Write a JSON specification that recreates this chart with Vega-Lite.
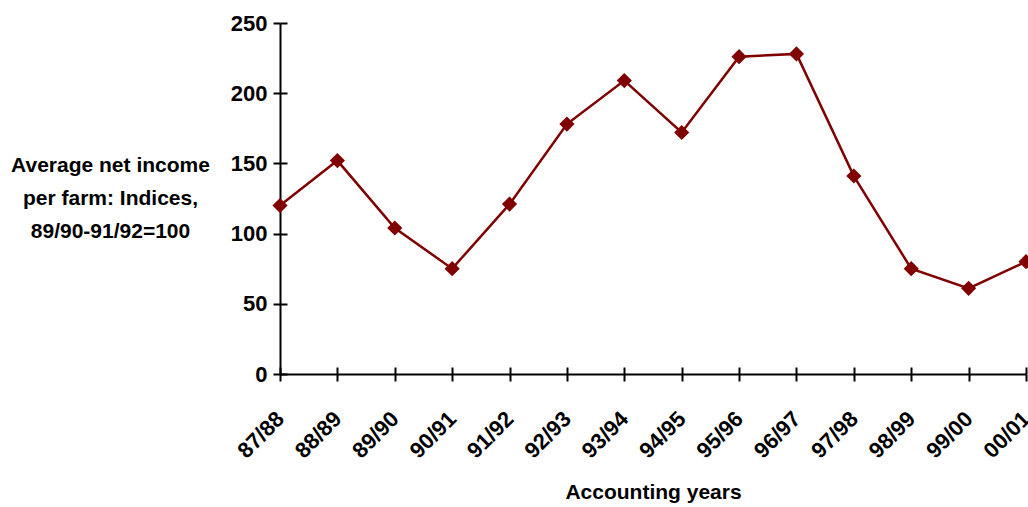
{
  "$schema": "https://vega.github.io/schema/vega-lite/v6.json",
  "width": 746,
  "height": 351,
  "autosize": {"type": "none"},
  "padding": {"left": 280, "top": 23, "right": 2, "bottom": 133},
  "background": "white",
  "config": {
    "view": {"stroke": null},
    "font": "Liberation Sans",
    "axis": {
      "grid": false,
      "domainColor": "black",
      "domainWidth": 2,
      "tickColor": "black",
      "tickWidth": 2,
      "tickSize": 7,
      "labelFont": "Liberation Sans",
      "labelFontWeight": "bold",
      "labelFontSize": 22,
      "labelColor": "black",
      "titleFont": "Liberation Sans",
      "titleFontWeight": "bold",
      "titleFontSize": 21,
      "titleColor": "black"
    }
  },
  "data": {
    "values": [
      {"year": "87/88", "index": 120},
      {"year": "88/89", "index": 152},
      {"year": "89/90", "index": 104},
      {"year": "90/91", "index": 75},
      {"year": "91/92", "index": 121},
      {"year": "92/93", "index": 178},
      {"year": "93/94", "index": 209},
      {"year": "94/95", "index": 172},
      {"year": "95/96", "index": 226},
      {"year": "96/97", "index": 228},
      {"year": "97/98", "index": 141},
      {"year": "98/99", "index": 75},
      {"year": "99/00", "index": 61},
      {"year": "00/01", "index": 80}
    ]
  },
  "resolve": {"axis": {"x": "independent", "y": "independent"}},
  "layer": [
    {
      "mark": {"type": "line", "color": "#800000", "strokeWidth": 2.5},
      "encoding": {
        "x": {
          "field": "year",
          "type": "ordinal",
          "sort": null,
          "scale": {"type": "point", "padding": 0},
          "axis": {
            "orient": "bottom",
            "title": "Accounting years",
            "titleY": 118,
            "titleBaseline": "middle",
            "labelAngle": -45,
            "labelAlign": "right",
            "labelBaseline": "middle",
            "labelPadding": 34,
            "labelOverlap": false
          }
        },
        "y": {
          "field": "index",
          "type": "quantitative",
          "scale": {"domain": [0, 250], "nice": false},
          "axis": {
            "orient": "left",
            "values": [0, 50, 100, 150, 200, 250],
            "labelPadding": 6,
            "title": ["Average net income", "per farm: Indices,", "89/90-91/92=100"],
            "titleAngle": 0,
            "titleAlign": "center",
            "titleBaseline": "middle",
            "titleLineHeight": 33,
            "titleX": -170,
            "titleY": 142
          }
        }
      }
    },
    {
      "mark": {"type": "point", "shape": "diamond", "filled": true, "opacity": 1, "color": "#800000", "size": 230},
      "encoding": {
        "x": {
          "field": "year",
          "type": "ordinal",
          "sort": null,
          "scale": {"type": "point", "padding": 0},
          "axis": {"orient": "bottom", "offset": -7, "domain": false, "labels": false, "title": null}
        },
        "y": {
          "field": "index",
          "type": "quantitative",
          "scale": {"domain": [0, 250], "nice": false},
          "axis": {"orient": "left", "offset": -7, "values": [0, 50, 100, 150, 200, 250], "domain": false, "labels": false, "title": null}
        }
      }
    }
  ]
}
